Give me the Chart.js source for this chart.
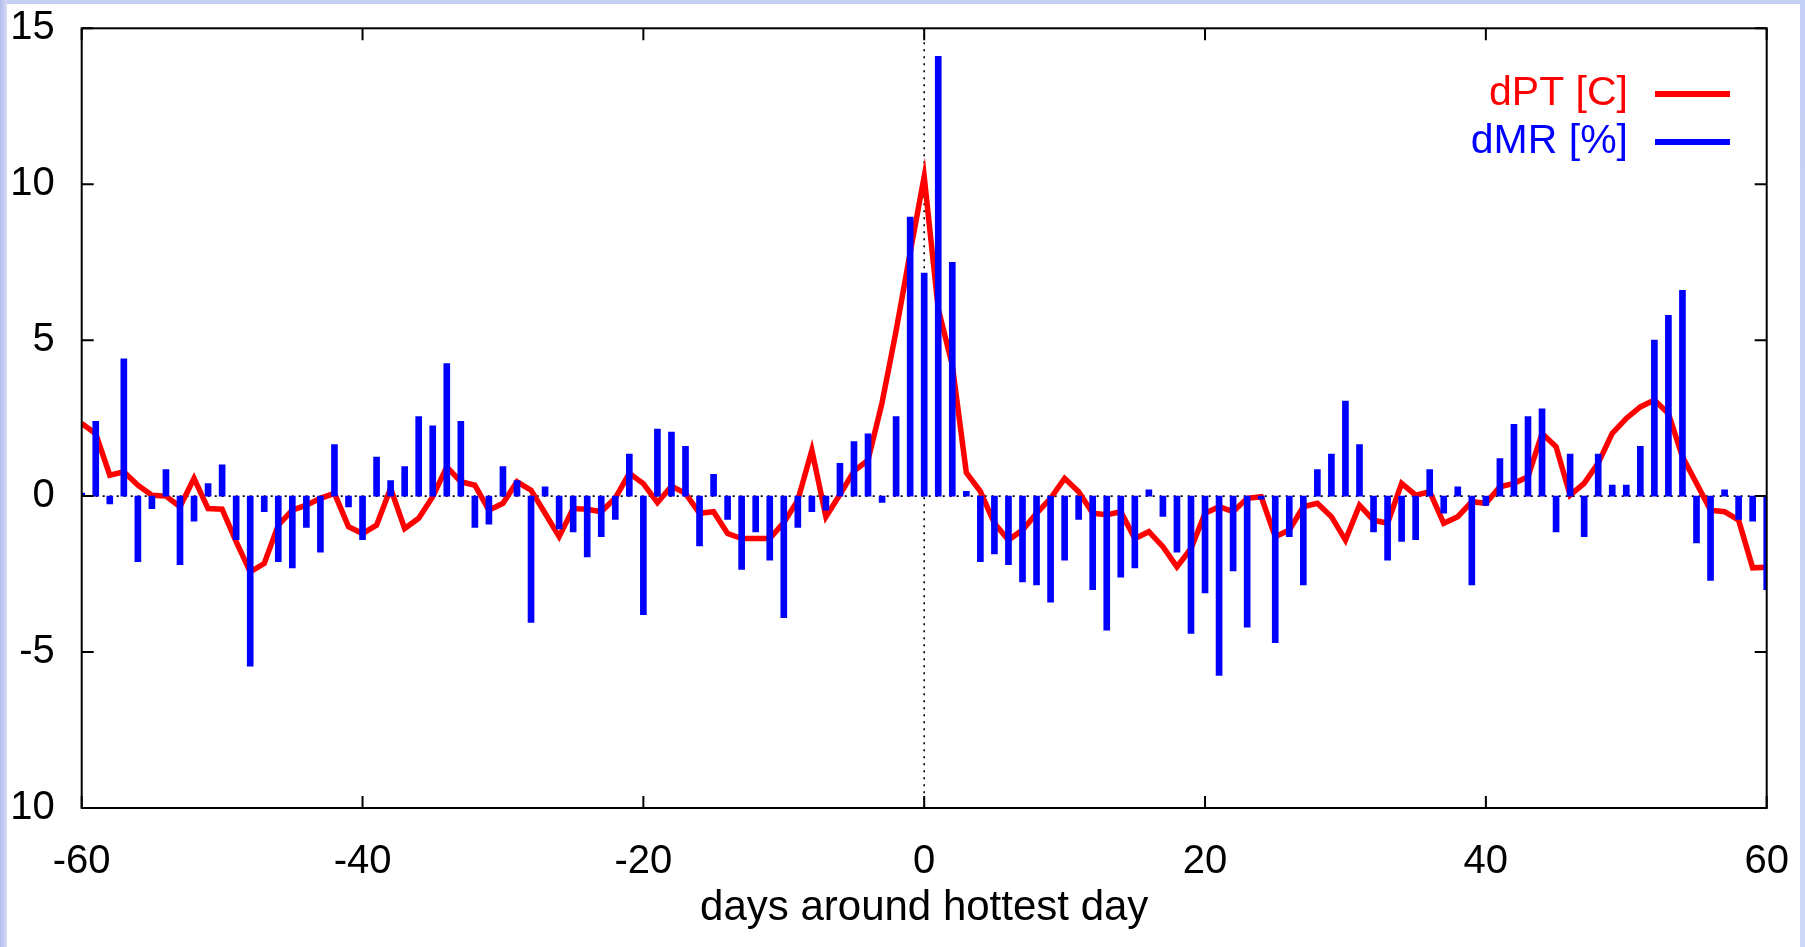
<!DOCTYPE html>
<html>
<head>
<meta charset="utf-8">
<script src="https://cdn.jsdelivr.net/npm/chart.js@4"></script>
<style>
  html, body { margin: 0; padding: 0; }
  body { width: 1805px; height: 947px; position: relative; overflow: hidden;
         background: linear-gradient(to bottom, #c4cff6, #cfd8f6); }
  #leftStrip { position: absolute; left: 0; top: 0; width: 7px; height: 947px;
               background: linear-gradient(to right, #b3bdec, #d6dcf6); }
  #paper { position: absolute; left: 7px; top: 4px; width: 1793px; height: 943px; background: #fff; }
  #chart { position: absolute; left: 12px; top: 4px; }
</style>
</head>
<body>
<div id="leftStrip"></div>
<div id="paper"></div>
<canvas id="chart" width="1788" height="943"></canvas>
<script>
document.addEventListener("DOMContentLoaded", function() {
    // x categories: days around the hottest day
    var days = [
        -60, -59, -58, -57, -56, -55, -54, -53, -52, -51, -50, -49, -48, -47, -46, -45, -44, -43, -42, -41,
        -40, -39, -38, -37, -36, -35, -34, -33, -32, -31, -30, -29, -28, -27, -26, -25, -24, -23, -22, -21,
        -20, -19, -18, -17, -16, -15, -14, -13, -12, -11, -10, -9, -8, -7, -6, -5, -4, -3, -2, -1,
        0, 1, 2, 3, 4, 5, 6, 7, 8, 9, 10, 11, 12, 13, 14, 15, 16, 17, 18, 19,
        20, 21, 22, 23, 24, 25, 26, 27, 28, 29, 30, 31, 32, 33, 34, 35, 36, 37, 38, 39,
        40, 41, 42, 43, 44, 45, 46, 47, 48, 49, 50, 51, 52, 53, 54, 55, 56, 57, 58, 59, 60
    ];

    // dPT [C] (red line)
    var dPT = [
        2.33, 2.0, 0.67, 0.78, 0.35, 0.03, 0.0, -0.34, 0.57, -0.4, -0.42, -1.46, -2.43, -2.16, -0.93, -0.45, -0.29, -0.07, 0.09, -0.98,
        -1.2, -0.93, 0.25, -1.04, -0.71, -0.02, 0.94, 0.46, 0.35, -0.45, -0.23, 0.46, 0.19, -0.55, -1.3, -0.4, -0.42, -0.5, -0.06, 0.73,
        0.4, -0.21, 0.32, 0.09, -0.55, -0.5, -1.2, -1.36, -1.36, -1.36, -0.85, -0.13, 1.47, -0.66, 0.05, 0.8, 1.15, 3.0, 5.3, 7.8,
        10.25, 6.0, 4.2, 0.75, 0.15, -0.87, -1.41, -1.09, -0.55, -0.07, 0.57, 0.14, -0.55, -0.6, -0.5, -1.36, -1.14, -1.62, -2.27, -1.68,
        -0.55, -0.34, -0.5, -0.07, -0.02, -1.3, -1.09, -0.34, -0.23, -0.66, -1.41, -0.29, -0.77, -0.87, 0.41, 0.03, 0.14, -0.87, -0.66, -0.18,
        -0.23, 0.3, 0.41, 0.62, 2.01, 1.58, 0.03, 0.41, 1.06, 2.01, 2.49, 2.86, 3.08, 2.65, 1.26, 0.41, -0.45, -0.5, -0.77, -2.3, -2.28
    ];

    // dMR [%] (blue bars)
    var dMR = [
        0.1, 2.4, -0.25, 4.4, -2.1, -0.4, 0.85, -2.2, -0.8, 0.4, 1.0, -1.4, -5.45, -0.5, -2.1, -2.3, -1.0, -1.8, 1.65, -0.35,
        -1.4, 1.25, 0.5, 0.95, 2.55, 2.25, 4.25, 2.4, -1.0, -0.9, 0.95, 0.5, -4.05, 0.3, -1.05, -1.15, -1.95, -1.3, -0.75, 1.35,
        -3.8, 2.15, 2.05, 1.6, -1.6, 0.7, -0.75, -2.35, -1.15, -2.05, -3.9, -1.0, -0.5, -0.45, 1.05, 1.75, 2.0, -0.2, 2.55, 8.95,
        7.15, 14.1, 7.5, 0.15, -2.1, -1.85, -2.2, -2.75, -2.85, -3.4, -2.05, -0.75, -3.0, -4.3, -2.6, -2.3, 0.2, -0.65, -1.8, -4.4,
        -3.1, -5.75, -2.4, -4.2, -0.1, -4.7, -1.3, -2.85, 0.85, 1.35, 3.05, 1.65, -1.15, -2.05, -1.45, -1.4, 0.85, -0.55, 0.3, -2.85,
        -0.3, 1.2, 2.3, 2.55, 2.8, -1.15, 1.35, -1.3, 1.35, 0.35, 0.35, 1.6, 5.0, 5.8, 6.6, -1.5, -2.7, 0.2, -0.75, -0.8, -3.0
    ];

    var xTicks = [-60, -40, -20, 0, 20, 40, 60];
    var yTicks = [-10, -5, 0, 5, 10, 15];

    var FONT = '"Liberation Sans Narrow", "Liberation Sans", Arial, sans-serif';

    // dotted zero axes, drawn under the data
    var zeroAxes = {
        id: "zeroAxes",
        beforeDatasetsDraw: function(chart) {
            var c = chart.ctx, a = chart.chartArea;
            var x0 = chart.scales.x.getPixelForValue(0);
            var y0 = chart.scales.y.getPixelForValue(0);
            c.save();
            c.strokeStyle = "#000";
            c.lineWidth = 1.6;
            c.setLineDash([2, 5]);
            c.beginPath();
            c.moveTo(a.left, y0); c.lineTo(a.right, y0);
            c.moveTo(x0, a.top); c.lineTo(x0, a.bottom);
            c.stroke();
            c.restore();
        }
    };

    // gnuplot style frame with inward, mirrored ticks
    var frame = {
        id: "frame",
        afterDatasetsDraw: function(chart) {
            var c = chart.ctx, a = chart.chartArea, t = 12;
            c.save();
            c.strokeStyle = "#000";
            c.lineWidth = 2;
            c.strokeRect(a.left, a.top, a.right - a.left, a.bottom - a.top);
            c.beginPath();
            xTicks.forEach(function(v) {
                var px = chart.scales.x.getPixelForValue(v);
                c.moveTo(px, a.bottom); c.lineTo(px, a.bottom - t);
                c.moveTo(px, a.top); c.lineTo(px, a.top + t);
            });
            yTicks.forEach(function(v) {
                var py = chart.scales.y.getPixelForValue(v);
                c.moveTo(a.left, py); c.lineTo(a.left + t, py);
                c.moveTo(a.right, py); c.lineTo(a.right - t, py);
            });
            c.stroke();
            c.restore();
        }
    };

    // legend: coloured text right aligned, sample line to its right
    var keyBox = {
        id: "keyBox",
        afterDraw: function(chart) {
            var c = chart.ctx;
            var textRight = 1616, lineX1 = 1643, lineX2 = 1718;
            var rowY = [90, 138];
            c.save();
            c.font = "41px " + FONT;
            c.textAlign = "right";
            c.textBaseline = "middle";
            chart.data.datasets.forEach(function(ds, i) {
                var col = ds.borderColor || ds.backgroundColor;
                c.fillStyle = col;
                c.fillText(ds.label, textRight, rowY[i]);
                c.strokeStyle = col;
                c.lineWidth = 6;
                c.beginPath();
                c.moveTo(lineX1, rowY[i]); c.lineTo(lineX2, rowY[i]);
                c.stroke();
            });
            c.restore();
        }
    };

    var ctx = document.getElementById("chart").getContext("2d");
    var chart = new Chart(ctx, {
        type: "bar",
        data: {
            datasets: [
                {
                    type: "line",
                    label: "dPT [C]",
                    data: days.map(function(d, i) { return { x: d, y: dPT[i] }; }),
                    borderColor: "#ff0000",
                    borderWidth: 5.5,
                    pointRadius: 0,
                    tension: 0,
                    order: 2
                },
                {
                    type: "bar",
                    label: "dMR [%]",
                    data: days.map(function(d, i) { return { x: d, y: dMR[i] }; }),
                    backgroundColor: "#0000ff",
                    borderWidth: 0,
                    barThickness: 6,
                    order: 1
                }
            ]
        },
        options: {
            responsive: false,
            animation: false,
            events: [],
            layout: { padding: { top: 24.3, right: 33.3, left: 0, bottom: 0 } },
            plugins: { legend: { display: false }, tooltip: { enabled: false } },
            scales: {
                x: {
                    type: "linear",
                    min: -60, max: 60,
                    offset: false,
                    afterBuildTicks: function(s) { s.ticks = xTicks.map(function(v) { return { value: v }; }); },
                    afterFit: function(s) { s.height = 139; s.paddingLeft = 0; s.paddingRight = 0; },
                    grid: { display: false },
                    border: { display: false },
                    ticks: { color: "#000", padding: 22, maxRotation: 0, font: { family: FONT, size: 40 } },
                    title: {
                        display: true,
                        text: "days around hottest day",
                        color: "#000",
                        padding: { top: 0, bottom: 13 },
                        font: { family: FONT, size: 42 }
                    }
                },
                y: {
                    min: -10, max: 15,
                    afterBuildTicks: function(s) { s.ticks = yTicks.map(function(v) { return { value: v }; }); },
                    afterFit: function(s) { s.width = 69.7; s.paddingTop = 0; s.paddingBottom = 0; },
                    grid: { display: false },
                    border: { display: false },
                    ticks: { color: "#000", padding: 19, font: { family: FONT, size: 40 } }
                }
            }
        },
        plugins: [zeroAxes, frame, keyBox]
    });
});
</script>
</body>
</html>
